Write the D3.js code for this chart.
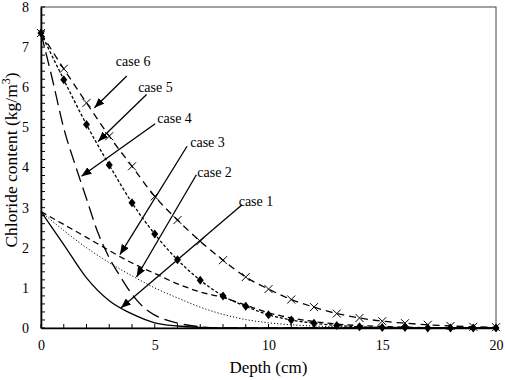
<!DOCTYPE html>
<html>
<head>
<meta charset="utf-8">
<script src="https://cdn.jsdelivr.net/npm/d3@7"></script>
<style>
  body { margin: 0; background: #fff; }
  svg text { fill: #000; }
</style>
</head>
<body>
<svg id="chart" width="505" height="380"></svg>
<script>
// depths (cm) for the sampled curves
var depths = d3.range(0, 21);
var depthsHalf = [0, 0.5, 1, 1.5, 2, 2.5, 3, 3.5, 4, 4.5, 5, 5.5, 6, 7, 8, 20];

var case1 = [2.9, 2.08, 1.25, 0.68, 0.35, 0.13, 0.05, 0.015, 0, 0, 0, 0, 0, 0, 0, 0, 0, 0, 0, 0, 0];
var case2 = [2.9, 2.43, 2.0, 1.63, 1.3, 1.0, 0.75, 0.52, 0.34, 0.21, 0.13, 0.08, 0.05, 0.03, 0.02, 0.01, 0, 0, 0, 0, 0];
var case3 = [2.9, 2.58, 2.26, 1.93, 1.62, 1.36, 1.1, 0.9, 0.76, 0.57, 0.38, 0.25, 0.16, 0.1, 0.06, 0.04, 0.02, 0.01, 0, 0, 0];
var case4 = [7.35, 6.2, 4.98, 4.07, 3.22, 2.38, 1.75, 1.27, 0.84, 0.52, 0.32, 0.2, 0.12, 0.03, 0, 0];
var case5 = [7.35, 6.19, 5.07, 4.06, 3.12, 2.34, 1.70, 1.19, 0.80, 0.54, 0.33, 0.20, 0.12, 0.065, 0.03, 0.015, 0.01, 0, 0, 0, 0];
var case6 = [7.35, 6.46, 5.61, 4.78, 4.03, 3.28, 2.69, 2.16, 1.69, 1.27, 0.97, 0.71, 0.52, 0.36, 0.25, 0.17, 0.12, 0.08, 0.05, 0.03, 0.02];

var xTicks = [0, 5, 10, 15, 20];
var yTicks = [0, 1, 2, 3, 4, 5, 6, 7, 8];

// annotation arrows, in data units
var labels = ['case 1', 'case 2', 'case 3', 'case 4', 'case 5', 'case 6'];
var labelX = [8.69, 6.87, 6.56, 5.11, 4.27, 3.29];
var labelY = [3.03, 3.77, 4.52, 5.12, 5.87, 6.52];
var arrowX1 = [8.84, 6.83, 6.42, 5.02, 4.64, 3.77];
var arrowY1 = [3.07, 3.82, 4.53, 5.09, 5.82, 6.28];
var arrowX2 = [3.51, 4.2, 3.47, 1.78, 2.51, 2.35];
var arrowY2 = [0.5, 1.27, 1.83, 3.78, 4.65, 5.49];

var serif = '"Liberation Serif", "Times New Roman", serif';

var svg = d3.select('#chart');
var margin = { left: 41, right: 9, top: 7, bottom: 52 };
var W = 505, H = 380;

var x = d3.scaleLinear().domain([0, 20]).range([margin.left, W - margin.right]);
var y = d3.scaleLinear().domain([0, 8]).range([H - margin.bottom, margin.top]);

// frame
svg.append('rect')
    .attr('x', x(0)).attr('y', y(8))
    .attr('width', x(20) - x(0)).attr('height', y(0) - y(8))
    .attr('fill', 'none').attr('stroke', '#444').attr('stroke-width', 1);

// minor ticks (inside)
var yMinor = d3.range(0, 8.01, 0.2);
svg.append('g').selectAll('line')
    .data(yMinor).enter()
    .append('line')
    .attr('x1', x(0)).attr('x2', x(0) + 4)
    .attr('y1', function(d) { return y(d); })
    .attr('y2', function(d) { return y(d); })
    .attr('stroke', '#000').attr('stroke-width', 1);

svg.append('g').selectAll('line')
    .data(depths).enter()
    .append('line')
    .attr('x1', function(d) { return x(d); })
    .attr('x2', function(d) { return x(d); })
    .attr('y1', y(0)).attr('y2', y(0) - 4)
    .attr('stroke', '#000').attr('stroke-width', 1);

// axes
var xAxis = svg.append('g')
    .attr('transform', 'translate(0,' + y(0) + ')')
    .call(d3.axisBottom(x).tickValues(xTicks).tickSize(0).tickPadding(12));
var yAxis = svg.append('g')
    .attr('transform', 'translate(' + x(0) + ',0)')
    .call(d3.axisLeft(y).tickValues(yTicks).tickSize(0).tickPadding(12));
[xAxis, yAxis].forEach(function(g) {
    g.attr('font-family', serif).attr('font-size', 14);
    g.select('.domain').attr('stroke', '#000').attr('stroke-width', 1.6);
});

// axis titles
svg.append('text')
    .attr('x', (x(0) + x(20)) / 2).attr('y', 373)
    .attr('text-anchor', 'middle')
    .attr('font-family', serif)
    .attr('font-size', 17)
    .text('Depth (cm)');

var yl = svg.append('text')
    .attr('transform', 'translate(17,160) rotate(-90)')
    .attr('text-anchor', 'middle')
    .attr('font-family', serif)
    .attr('font-size', 17.5);
yl.append('tspan').text('Chloride content (kg/m');
yl.append('tspan').attr('dy', -7).attr('font-size', 12).text('3');
yl.append('tspan').attr('dy', 7).text(')');

// curves
function pts(xs, ys) {
    return xs.map(function(d, i) { return [d, ys[i]]; });
}
var line = d3.line()
    .x(function(d) { return x(d[0]); })
    .y(function(d) { return y(d[1]); })
    .curve(d3.curveMonotoneX);

var series = [
    { data: pts(depths, case1), dash: null, w: 1.3 },
    { data: pts(depths, case2), dash: '1.2,2', w: 1 },
    { data: pts(depths, case3), dash: '6,4', w: 1.3 },
    { data: pts(depthsHalf, case4), dash: '14,6', w: 1.3 },
    { data: pts(depths, case5), dash: '3,2', w: 1.3 },
    { data: pts(depths, case6), dash: '7,5', w: 1.3 }
];

svg.append('g').selectAll('path')
    .data(series).enter()
    .append('path')
    .attr('d', function(d) { return line(d.data); })
    .attr('fill', 'none')
    .attr('stroke', '#000')
    .attr('stroke-width', function(d) { return d.w; })
    .attr('stroke-dasharray', function(d) { return d.dash; });

// markers: diamonds for case 5
svg.append('g').selectAll('path')
    .data(pts(depths, case5)).enter()
    .append('path')
    .attr('d', 'M0,-4.5L3.5,0L0,4.5L-3.5,0Z')
    .attr('transform', function(d) { return 'translate(' + x(d[0]) + ',' + y(d[1]) + ')'; })
    .attr('fill', '#000');

// X markers for case 6
svg.append('g').selectAll('path')
    .data(pts(depths, case6)).enter()
    .append('path')
    .attr('d', 'M-4,-4L4,4M-4,4L4,-4')
    .attr('transform', function(d) { return 'translate(' + x(d[0]) + ',' + y(d[1]) + ')'; })
    .attr('stroke', '#000').attr('stroke-width', 1);

// arrows
svg.append('defs').append('marker')
    .attr('id', 'ah')
    .attr('viewBox', '0 0 10 8')
    .attr('refX', 10).attr('refY', 4)
    .attr('markerWidth', 10).attr('markerHeight', 8)
    .attr('markerUnits', 'userSpaceOnUse')
    .attr('orient', 'auto')
    .append('path').attr('d', 'M0,0L10,4L0,8Z').attr('fill', '#000');

svg.append('g').selectAll('line')
    .data(labels).enter()
    .append('line')
    .attr('x1', function(d, i) { return x(arrowX1[i]); })
    .attr('y1', function(d, i) { return y(arrowY1[i]); })
    .attr('x2', function(d, i) { return x(arrowX2[i]); })
    .attr('y2', function(d, i) { return y(arrowY2[i]); })
    .attr('stroke', '#000').attr('stroke-width', 1.3)
    .attr('marker-end', 'url(#ah)');

svg.append('g').selectAll('text')
    .data(labels).enter()
    .append('text')
    .attr('x', function(d, i) { return x(labelX[i]); })
    .attr('y', function(d, i) { return y(labelY[i]); })
    .attr('font-family', serif)
    .attr('font-size', 14)
    .text(function(d) { return d; });
</script>
</body>
</html>
